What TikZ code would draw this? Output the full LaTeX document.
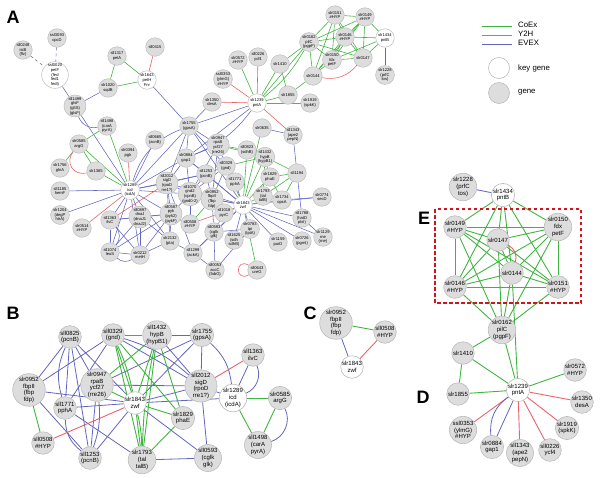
\documentclass[tikz,border=0pt]{standalone}
\usepackage{fontspec}
\setmainfont{Liberation Sans}
\usetikzlibrary{backgrounds}
\definecolor{cgreen}{RGB}{64,180,64}
\definecolor{cred}{RGB}{234,98,104}
\definecolor{cblue}{RGB}{98,102,190}
\definecolor{ngray}{RGB}{221,221,221}
\definecolor{nedge}{RGB}{188,188,188}
\definecolor{boxred}{RGB}{210,20,30}
\begin{document}
\begin{tikzpicture}[x=1pt,y=-1pt,
  an/.style={circle,draw=nedge,fill=ngray,line width=0.5pt,minimum size=18.5pt,inner sep=0pt,align=center,font=\fontsize{4.1}{4.7}\selectfont},
  ak/.style={an,fill=white},
  bn/.style={circle,draw=nedge,fill=ngray,line width=0.6pt,minimum size=22.5pt,inner sep=0pt,align=center,font=\fontsize{6}{6.8}\selectfont},
  bk/.style={bn,fill=white},
  gA/.style={draw=cgreen,line width=0.6pt},
  rA/.style={draw=cred,line width=0.6pt},
  bA/.style={draw=cblue,line width=0.55pt},
  gB/.style={draw=cgreen,line width=0.9pt},
  rB/.style={draw=cred,line width=0.9pt},
  bB/.style={draw=cblue,line width=0.8pt},
  plabel/.style={font=\fontsize{18}{18}\selectfont\bfseries,inner sep=0pt},
  lg/.style={font=\fontsize{7.8}{8}\selectfont,anchor=west,inner sep=0pt}
]
\useasboundingbox (0,0) rectangle (600,477);

% ---------------- Panel labels
\node[plabel] (lA) at (13,17) {A};
\node[plabel] (lB) at (13,313) {B};
\node[plabel] (lC) at (310,313) {C};
\node[plabel] (lD) at (423,397) {D};
\node[plabel] (lE) at (424,218) {E};

% ---------------- Legend
\coordinate (lg1a) at (482,26); \coordinate (lg1b) at (512,26);
\coordinate (lg2a) at (482,35); \coordinate (lg2b) at (512,35);
\coordinate (lg3a) at (482,44); \coordinate (lg3b) at (512,44);
\draw[gB] (lg1a) -- (lg1b);
\draw[rB] (lg2a) -- (lg2b);
\draw[bB] (lg3a) -- (lg3b);
\node[lg] (t1) at (518,25) {CoEx};
\node[lg] (t2) at (518,34) {Y2H};
\node[lg] (t3) at (518,43) {EVEX};
\node[circle,draw=nedge,fill=white,line width=0.6pt,minimum size=21pt,inner sep=0pt] (lk) at (499,68) {};
\node[circle,draw=nedge,fill=ngray,line width=0.6pt,minimum size=21pt,inner sep=0pt] (lgn) at (499,93) {};
\node[lg] (t4) at (518,68) {key gene};
\node[lg] (t5) at (518,92) {gene};

% ---------------- Panel A nodes
\node[an] (a0248) at (23,50) {sll0248\\isiB\\(flv)};
\node[an] (a3093) at (57,38) {ssl3093\\cpcD};
\node[ak] (a0020) at (55,75) {ssl0020\\petF\\(fed\\fed1\\fedI)};
\node[an] (a1317) at (117,56) {sll1317\\petA};
\node[an] (a0415) at (155,47) {sll0415};
\node[ak] (a1643) at (147,80) {slr1643\\petH\\Fnr};
\node[an] (a1020) at (108,88) {slr1020\\sqdB};
\node[an] (a1499) at (75,106) {sll1499\\glsF\\(gltS)\\(glsF)};
\node[an] (a1498) at (107,126) {sll1498\\(carA\\pyrA)};
\node[an] (a0585) at (79,144) {slr0585\\argG};
\node[an] (a1756) at (60,168) {slr1756\\glnA};
\node[an] (a1365) at (96,171) {slr1365};
\node[an] (a0394) at (128,153) {slr0394\\pgk};
\node[an] (a0665) at (155,140) {sll0665\\(acnB)};
\node[an] (a1185) at (60,191) {sll1185\\hemF};
\node[ak] (a1289) at (130,190) {slr1289\\icd\\(icdA)};
\node[an] (a1204) at (60,215) {slr1204\\(degP\\htrA)};
\node[an] (a0514) at (82,228) {slr0514\\\#HYP};
\node[an] (a1363) at (110,220) {sll1363\\ilvC};
\node[an] (a0897) at (140,217) {sll0897\\dnaJ\\(dnaJ1\\dnaJ2)};
\node[an] (a1074) at (110,252) {sll1074\\leuS};
\node[an] (a0212) at (140,255) {slr0212\\metH};
\node[an] (a1755) at (189,126) {slr1755\\(gpsA)};
\node[an] (a0884) at (186,158) {slr0884\\gap1};
\node[an] (a2012) at (167,183) {sll2012\\sigD\\(rpoD\\rre1?)};
\node[an] (a0587) at (171,214) {sll0587\\pyk\\(pyk2)\\(pykF)};
\node[an] (a2132) at (170,241) {slr2132\\(pta)};
\node[an] (a1299) at (193,253) {sll1299\\(ackA)};
\node[an] (a0053) at (215,270) {sll0053\\accC\\(fabG)};
\node[an] (a0643) at (257,270) {sll0643\\ureG};
\node[an] (a0947) at (218,145) {slr0947\\rpaB\\ycf27\\(rre26)};
\node[an] (a0329) at (226,166) {sll0329\\(gnd)};
\node[an] (a1253) at (206,174) {sll1253\\(pcnB)};
\node[an] (a0070) at (190,194) {sll1070\\gnd2\\(cpnB)\\(gnd0-2)};
\node[an] (a0952) at (212,199) {slr0952\\fbpII\\(fbp\\fdp)};
\node[an] (a0508) at (190,224) {sll0508\\\#HYP};
\node[an] (a1018) at (224,213) {sll1018\\pyrC};
\node[an] (a0593) at (214,232) {sll0593\\(cglk\\glk)};
\node[an] (a1625) at (234,240) {sll1625\\(sdh\\sdhB)};
\node[an] (a0783) at (250,229) {slr0783\\tpi\\(tpiA)};
\node[an] (a1159) at (278,242) {slr1159\\purD};
\node[an] (a0726) at (302,241) {slr0726\\(pgmI)};
\node[an] (a1129) at (323,237) {slr1129\\rne\\(rne)};
\node[an] (a1788) at (302,218) {sll1788\\(hatD\\ptsI)};
\node[an] (a0774) at (322,197) {slr0774\\secD};
\node[an] (a1734) at (282,200) {slr1734\\opcA};
\node[an] (a1793) at (263,196) {slr1793\\(tal\\talB)};
\node[ak] (a1843) at (243,205) {slr1843\\zwf};
\node[an] (a1771) at (235,182) {sll1771\\pphA};
\node[an] (a1829) at (270,177) {slr1829\\phaE};
\node[an] (a1194) at (297,173) {sll1194};
\node[an] (a1432) at (265,157) {sll1432\\hypB\\(hypB1)};
\node[an] (a0823) at (247,150) {sll0823\\(sdhB)};
\node[an] (a0635) at (262,128) {slr0635};
\node[an] (a1343) at (293,135) {sll1343\\(ape2\\pepN)};
\node[ak] (a1239) at (257,103) {slr1239\\pntA};
\node[an] (a1350) at (212,102) {slr1350\\desA};
\node[an] (a0353) at (223,79) {ssl0353\\(ylmG)\\\#HYP};
\node[an] (a0572) at (238,60) {slr0572\\\#HYP};
\node[an] (a0226) at (258,57) {sll0226\\ycf4};
\node[an] (a1410) at (280,64) {slr1410};
\node[an] (a1855) at (288,95) {slr1855};
\node[an] (a1919) at (310,103) {slr1919\\(spkK)};
\node[an] (a0162) at (309,42) {slr0162\\pilC\\(pgpF)};
\node[an] (a0151) at (335,15) {slr0151\\\#HYP};
\node[an] (a0149) at (365,17) {slr0149\\\#HYP};
\node[an] (a0146) at (345,37) {slr0146\\\#HYP};
\node[an] (a0150) at (332,60) {slr0150\\fdx\\petF};
\node[an] (a0147) at (363,58) {slr0147};
\node[an] (a0144) at (313,76) {slr0144};
\node[ak] (a1434) at (385,38) {slr1434\\pntB};
\node[an] (a1228) at (385,75) {slr1228\\(prfC\\tos)};

% ---------------- Panel B nodes
\node[bn] (b0825) at (70,337) {sll0825\\(pcnB)};
\node[bn] (b0329) at (113,335) {sll0329\\(gnd)};
\node[bn] (b1432) at (157,335) {sll1432\\hypB\\(hypB1)};
\node[bn] (b1755) at (202,335) {slr1755\\(gpsA)};
\node[bn] (b0952) at (29,390) {slr0952\\fbpII\\(fbp\\fdp)};
\node[bn] (b0947) at (97,385) {slr0947\\rpaB\\ycf27\\(rre26)};
\node[bn] (b2012) at (201,386) {sll2012\\sigD\\(rpoD\\rre1?)};
\node[bk] (b1843) at (135,403) {slr1843\\zwf};
\node[bn] (b1771) at (65,408) {sll1771\\pphA};
\node[bn] (b1829) at (183,418) {slr1829\\phaE};
\node[bn] (b0508) at (43,443) {sll0508\\\#HYP};
\node[bn] (b1253) at (90,458) {sll1253\\(pcnB)};
\node[bn] (b1793) at (142,460) {slr1793\\(tal\\talB)};
\node[bn] (b0593) at (208,458) {sll0593\\(cglk\\glk)};
\node[bn] (b1363) at (253,355) {sll1363\\ilvC};
\node[bk] (b1289) at (233,398) {slr1289\\icd\\(icdA)};
\node[bn] (b0585) at (280,398) {slr0585\\argG};
\node[bn] (b1498) at (258,445) {sll1498\\(carA\\pyrA)};

% ---------------- Panel C nodes
\node[bn] (c0952) at (336,323) {slr0952\\fbpII\\(fbp\\fdp)};
\node[bn] (c0508) at (385,332) {sll0508\\\#HYP};
\node[bk] (c1843) at (352,367) {slr1843\\zwf};

% ---------------- Panels D/E nodes
\node[bn] (e1228) at (463,187) {slr1228\\(prfC\\tos)};
\node[bk] (e1434) at (503,195) {slr1434\\pntB};
\node[bn] (e0149) at (455,227) {slr0149\\\#HYP};
\node[bn] (e0150) at (558,227) {slr0150\\fdx\\petF};
\node[bn] (e0147) at (498,240) {slr0147};
\node[bn] (e0144) at (512,273) {slr0144};
\node[bn] (e0146) at (455,287) {slr0146\\\#HYP};
\node[bn] (e0151) at (558,287) {slr0151\\\#HYP};
\node[bn] (e0162) at (502,330) {slr0162\\pilC\\(pgpF)};
\node[bn] (e1410) at (463,353) {slr1410};
\node[bn] (e1855) at (458,394) {slr1855};
\node[bk] (e1239) at (518,390) {slr1239\\pntA};
\node[bn] (e0572) at (575,370) {slr0572\\\#HYP};
\node[bn] (e1350) at (582,402) {slr1350\\desA};
\node[bn] (e1919) at (567,428) {slr1919\\(spkK)};
\node[bn] (e0226) at (550,450) {sll0226\\ycf4};
\node[bn] (e1343) at (520,453) {sll1343\\(ape2\\pepN)};
\node[bn] (e0884) at (492,447) {slr0884\\gap1};
\node[bn] (e0353) at (463,430) {ssl0353\\(ylmG)\\\#HYP};

\draw[boxred,line width=1.2pt,dash pattern=on 3.5pt off 2.5pt] (435,209) rectangle (581,303);

% ---------------- Edges
\begin{scope}[on background layer]
% panel A
\draw[bA,dashed] (a0248) -- (a0020);
\draw[bA,dashed] (a3093) -- (a0020);
\foreach \u/\v in {a0020/a1499,a1499/a1020,a1499/a1289,a1643/a1755,a1350/a1755,a1239/a1755,a1239/a0884,a1434/a1228,
 a1194/a1343,a1343/a0635,a1194/a1788,a1185/a1289,a1204/a1289,a1363/a1289,a0665/a1289,a1755/a1289,a0884/a1289,a2012/a1289,
 a0897/a1289,a1074/a1289,a0212/a1289,a0587/a1289,a2132/a1289,a0070/a1289,a1253/a1289,
 a1755/a0884,a1755/a0947,a1755/a2012,a1755/a1843,a1755/a0329,a0884/a2012,a0884/a1253,a0884/a0947,a0884/a0070,a0884/a1843,
 a0947/a0329,a0947/a0070,a0947/a0952,a0329/a1253,a0329/a0952,a0329/a1771,a0329/a0070,a1253/a0952,a1253/a1843,a1253/a0070,a1253/a2012,
 a0952/a1843,a0952/a0070,a0952/a1018,a0952/a0593,a1843/a0783,a1843/a1625,a1843/a1159,a1843/a0726,a1843/a1129,a1843/a1788,a1843/a0774,
 a1843/a0593,a1843/a1018,a1843/a1771,a1843/a2012,a1843/a1299,a1843/a0070,a1734/a0774,a1788/a1129,
 a2012/a0587,a2012/a0070,a2012/a2132,a2012/a1299,a0587/a1363,a0587/a0897,a0587/a2132,a0587/a0212,a0587/a1074,a0587/a0070,
 a1363/a0897,a1363/a1074,a1363/a0212,a0897/a0212,a0897/a1074,a0897/a2132,a1074/a0212,a0212/a2132,
 a2132/a1299,a1299/a0053,a0593/a0053,a0593/a1299,a0593/a0783,a0783/a1625,a0070/a0508,a1018/a0593,a0783/a0053}
 \draw[bA] (\u) -- (\v);
\draw[bA] (a1499) to[bend right=40] (a1498);
\draw[bA] (a1363) to[bend left=40] (a1074);
\draw[bA] (a1074) to[bend right=35] (a0212);
\draw[bA] (a1289) to[bend left=25] (a1755);
\draw[bA] (a1239) to[bend left=15] (a0884);
\foreach \u/\v in {a1317/a1020,a1317/a1643,a1020/a1643,a0585/a1498,a0585/a1756,a0585/a1289,a1365/a1289,a0585/a1365,a1498/a1289,
 a0952/a0508,a0947/a0823,a0947/a1432,a0329/a1843,a0329/a1432,a1843/a1793,a1843/a1829,a1843/a1734,a1843/a1432,a1843/a0635,
 a1843/a0823,a1843/a0643,a1829/a1432,a1829/a1194,a1829/a1734,a1793/a1194,a1793/a1432,a1793/a1734,a1734/a1194,a1432/a1194,
 a0823/a1432,a1239/a0162,a1239/a1410,a1239/a1855,a1239/a0572,a1410/a0162,a1410/a1855,a1855/a0144,a0162/a0144,
 a0162/a0151,a0162/a0146,a0162/a0150,a0162/a0147,a0162/a0149,
 a0151/a0149,a0151/a0146,a0151/a0150,a0151/a0147,a0151/a0144,a0149/a0146,a0149/a0150,a0149/a0147,a0149/a0144,
 a0146/a0150,a0146/a0147,a0146/a0144,a0150/a0147,a0150/a0144,a1434/a0149,a1434/a0147,a1434/a0150,a1434/a0146}
 \draw[gA] (\u) -- (\v);
\draw[gA] (a1239) to[bend right=10] (a0162);
\foreach \u/\v in {a0415/a1643,a0394/a1289,a0514/a1289,a2012/a1363,a0508/a1843,a1239/a1350,a1239/a0353,a1239/a0226,a1239/a1919,a1239/a1343}
 \draw[rA] (\u) -- (\v);
\draw[rA] (a0144) to[bend right=30] (a0147);
\draw[rA] (a0585) to[bend right=70,looseness=1.4] (a1365);
\draw[rA] (a0643) to[out=150,in=210,loop,min distance=16pt] (a0643);

% panel B
\foreach \u/\v in {b0825/b0952,b0825/b1771,b0825/b1253,b0825/b1843,b0825/b0947,b0329/b0952,b0329/b1771,b0329/b2012,
 b1432/b1755,b0947/b2012,b0947/b1253,b0952/b1843,b0952/b1253,b1771/b1843,b1771/b1793,b1253/b1843,b1843/b1289,
 b1843/b0593,b1843/b2012,b1843/b1755,b1793/b0593,b1755/b2012,b1755/b0947,b2012/b1289,b2012/b0593,b1363/b1289,b1432/b2012}
 \draw[bB] (\u) -- (\v);
\draw[bB] (b0825) to[bend right=20] (b1771);
\draw[bB] (b0947) to[bend left=12] (b1253);
\draw[bB] (b1771) to[bend right=25] (b1253);
\draw[bB] (b1755) to[bend left=20] (b1289);
\draw[bB] (b1363) to[bend left=45] (b1289);
\draw[bB] (b0585) to[bend left=50] (b1498);
\draw[bB] (b0329) to[bend left=12] (b2012);
\foreach \u/\v in {b0329/b1432,b0329/b1843,b0329/b1793,b0329/b1829,b1432/b0947,b1432/b1843,b1432/b1793,b1432/b1829,
 b0947/b1843,b0952/b0508,b1843/b1793,b1843/b1829,b1829/b1793,b1289/b0585,b1289/b1498,b0585/b1498}
 \draw[gB] (\u) -- (\v);
\draw[gB] (b0329) to[bend left=6] (b1843);
\draw[gB] (b1432) to[bend right=5] (b1793);
\draw[gB] (b1843) to[bend left=6] (b1793);
\draw[rB] (b0508) -- (b1843);
\draw[rB] (b2012) -- (b1363);

% panel C
\draw[gB] (c0952) -- (c0508);
\draw[bB] (c0952) -- (c1843);
\draw[rB] (c0508) -- (c1843);

% panels D/E
\draw[bB] (e1228) -- (e1434);
\foreach \u/\v in {e1434/e0149,e1434/e0147,e1434/e0146,e1434/e0151,e1434/e0150,e1434/e0144,
 e0149/e0150,e0149/e0147,e0149/e0144,e0149/e0146,e0149/e0151,e0150/e0147,e0150/e0144,e0150/e0146,e0150/e0151,
 e0147/e0144,e0147/e0146,e0147/e0151,e0144/e0146,e0144/e0151,e0146/e0151,
 e0149/e0162,e0150/e0162,e0147/e0162,e0144/e0162,e0146/e0162,e0151/e0162,
 e0162/e1410,e0162/e1239,e1410/e1855,e1410/e1239,e1855/e1239,e0572/e1239,e0144/e1239}
 \draw[gB] (\u) -- (\v);
\draw[rB] (e0147) to[bend left=40] (e0144);
\foreach \u/\v in {e1239/e1350,e1239/e1919,e1239/e0226,e1239/e1343,e1239/e0353}
 \draw[rB] (\u) -- (\v);
\draw[bB] (e1239) -- (e0884);
\draw[bB] (e1239) to[bend right=30] (e0884);
\end{scope}
\end{tikzpicture}
\end{document}
